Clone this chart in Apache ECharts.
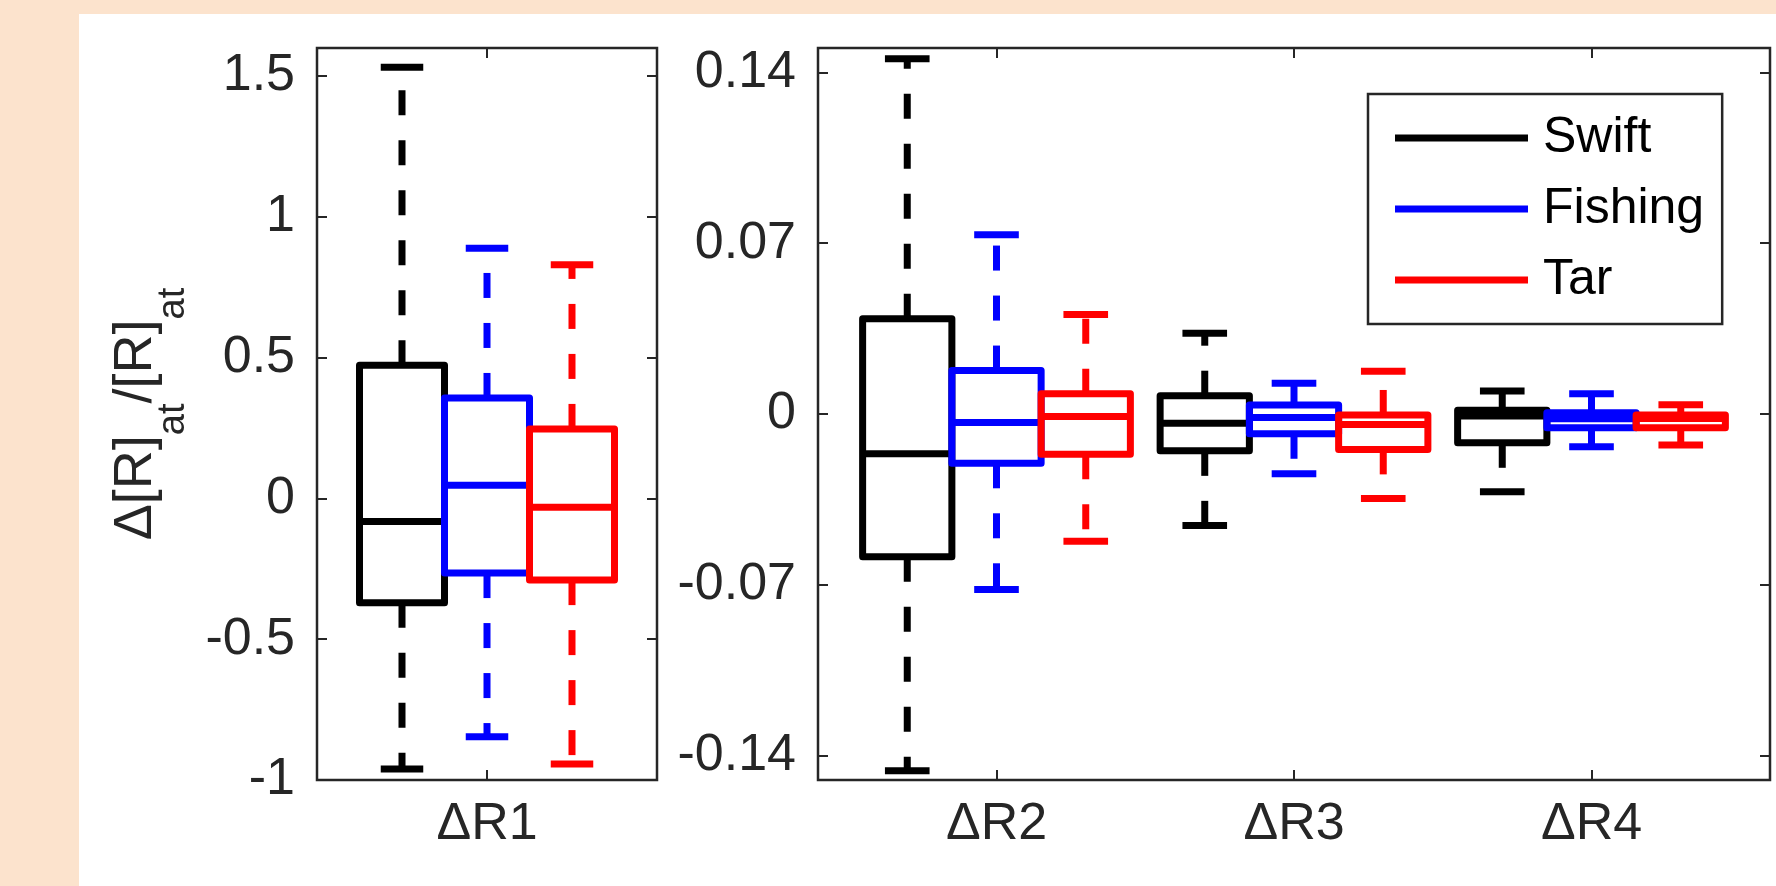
<!DOCTYPE html>
<html>
<head>
<meta charset="utf-8">
<script src="https://cdn.jsdelivr.net/npm/echarts@6/dist/echarts.min.js"></script>
<style>
  html, body { margin: 0; padding: 0; background: #fce3cd; }
  #chart { width: 1776px; height: 886px; }
</style>
</head>
<body>
<div id="chart"></div>
<script>
// categories and groups
const categories = ['ΔR1', 'ΔR2', 'ΔR3', 'ΔR4'];
const groups = ['Swift', 'Fishing', 'Tar'];
const groupColors = ['#000000', '#0000ff', '#ff0000'];

// per category: [lower whisker, q1, median, q3, upper whisker]
const swiftStats = [
  [-0.961, -0.370, -0.082, 0.473, 1.532],
  [-0.1462, -0.0585, -0.0163, 0.0390, 0.1456],
  [-0.0457, -0.0151, -0.0038, 0.0075, 0.0331],
  [-0.0319, -0.0118, -0.0008, 0.0015, 0.0094]
];
const fishingStats = [
  [-0.846, -0.265, 0.047, 0.357, 0.889],
  [-0.0719, -0.0202, -0.0035, 0.0178, 0.0735],
  [-0.0245, -0.0081, -0.0014, 0.0037, 0.0126],
  [-0.0134, -0.0056, -0.0019, 0.0005, 0.0083]
];
const tarStats = [
  [-0.943, -0.290, -0.031, 0.247, 0.830],
  [-0.0522, -0.0165, -0.0010, 0.0083, 0.0408],
  [-0.0346, -0.0145, -0.0043, -0.0004, 0.0175],
  [-0.0127, -0.0056, -0.0018, -0.0004, 0.0038]
];

// tick labels
const leftTicks = [-1, -0.5, 0, 0.5, 1, 1.5];
const rightTicks = [-0.14, -0.07, 0, 0.07, 0.14];

const statsByGroup = [swiftStats, fishingStats, tarStats];
const BOX_OFFSETS = [-0.3, 0, 0.3];
const BOX_W = 0.3;
const CAP_W = 0.15;
const LINE_W = 7;
const FONT = 'Liberation Sans';
const AXIS_COLOR = '#262626';

function renderBox(params, api) {
  const x = api.value(0);
  const lo = api.coord([x, api.value(1)]);
  const q1 = api.coord([x, api.value(2)]);
  const med = api.coord([x, api.value(3)]);
  const q3 = api.coord([x, api.value(4)]);
  const hi = api.coord([x, api.value(5)]);
  const halfBox = api.size([BOX_W, 0])[0] / 2;
  const halfCap = api.size([CAP_W, 0])[0] / 2;
  const color = api.visual('color');
  const solid = { stroke: color, lineWidth: LINE_W, fill: null, lineJoin: 'round' };
  const dashed = { stroke: color, lineWidth: LINE_W, fill: null, lineDash: [25, 25] };
  const cx = med[0];
  return {
    type: 'group',
    children: [
      // whiskers start at the box so the dash pattern begins there
      { type: 'line', shape: { x1: cx, y1: q3[1], x2: cx, y2: hi[1] }, style: dashed },
      { type: 'line', shape: { x1: cx, y1: q1[1], x2: cx, y2: lo[1] }, style: dashed },
      { type: 'line', shape: { x1: cx - halfCap, y1: hi[1], x2: cx + halfCap, y2: hi[1] }, style: solid },
      { type: 'line', shape: { x1: cx - halfCap, y1: lo[1], x2: cx + halfCap, y2: lo[1] }, style: solid },
      { type: 'rect', shape: { x: cx - halfBox, y: q3[1], width: halfBox * 2, height: q1[1] - q3[1] }, style: solid },
      { type: 'line', shape: { x1: cx - halfBox, y1: med[1], x2: cx + halfBox, y2: med[1] }, style: solid }
    ]
  };
}

// left panel holds ΔR1, right panel ΔR2..ΔR4
function buildSeries() {
  const out = [];
  groups.forEach((name, g) => {
    const stats = statsByGroup[g];
    const panels = [[0], [1, 2, 3]];
    panels.forEach((cats, p) => {
      out.push({
        name,
        type: 'custom',
        xAxisIndex: p * 2,
        yAxisIndex: p * 2,
        itemStyle: { color: groupColors[g] },
        renderItem: renderBox,
        encode: { x: 0, y: [1, 2, 3, 4, 5] },
        data: cats.map((c, i) => [i + 1 + BOX_OFFSETS[g]].concat(stats[c]))
      });
    });
  });
  return out;
}

const labelStyle = { fontFamily: FONT, fontSize: 52, color: AXIS_COLOR };
const tickStyle = { show: true, inside: true, length: 10, lineStyle: { color: AXIS_COLOR, width: 2 } };
const noLine = { show: false, onZero: false };

function xAxes(gridIndex, cats) {
  const pos = cats.map((c, i) => i + 1);
  const range = { min: 0.4, max: cats.length + 0.6 };
  return [
    {
      type: 'value', gridIndex, position: 'bottom', ...range,
      axisLine: noLine, splitLine: { show: false },
      axisTick: { ...tickStyle, customValues: pos },
      axisLabel: { ...labelStyle, margin: 19, customValues: pos, formatter: v => cats[Math.round(v) - 1] }
    },
    {
      type: 'value', gridIndex, position: 'top', ...range,
      axisLine: noLine, splitLine: { show: false },
      axisTick: { ...tickStyle, customValues: pos },
      axisLabel: { show: false }
    }
  ];
}

function yAxes(gridIndex, min, max, ticks, extra) {
  return [
    Object.assign({
      type: 'value', gridIndex, position: 'left', min, max,
      axisLine: noLine, splitLine: { show: false },
      axisTick: { ...tickStyle, customValues: ticks },
      axisLabel: { ...labelStyle, margin: 22, customValues: ticks, formatter: v => String(v) }
    }, extra || {}),
    {
      type: 'value', gridIndex, position: 'right', min, max,
      axisLine: noLine, splitLine: { show: false },
      axisTick: { ...tickStyle, customValues: ticks },
      axisLabel: { show: false }
    }
  ];
}

const chart = echarts.init(document.getElementById('chart'));
chart.setOption({
  animation: false,
  backgroundColor: 'transparent',
  graphic: [{
    type: 'rect', left: 79, top: 14, z: -10, silent: true,
    shape: { width: 1697, height: 872 },
    style: { fill: '#ffffff' }
  }],
  grid: [
    { left: 317, top: 48, width: 340, height: 732, show: true, borderColor: AXIS_COLOR, borderWidth: 2.5, backgroundColor: 'transparent' },
    { left: 818, top: 48, width: 952, height: 732, show: true, borderColor: AXIS_COLOR, borderWidth: 2.5, backgroundColor: 'transparent' }
  ],
  xAxis: [...xAxes(0, categories.slice(0, 1)), ...xAxes(1, categories.slice(1))],
  yAxis: [
    ...yAxes(0, -1, 1.6, leftTicks, {
      name: '{m|Δ[R]}{s|at}{m|/[R]}{s|at}',
      nameLocation: 'middle',
      nameRotate: 90,
      nameGap: 78,
      nameTextStyle: {
        rich: {
          m: { fontFamily: FONT, fontSize: 54, color: AXIS_COLOR, lineHeight: 54, verticalAlign: 'top' },
          s: { fontFamily: FONT, fontSize: 38, color: AXIS_COLOR, lineHeight: 130 }
        }
      }
    }),
    ...yAxes(1, -0.15, 0.15, rightTicks)
  ],
  legend: {
    data: groups,
    selectedMode: false,
    orient: 'vertical',
    left: 1368,
    top: 94,
    padding: [19, 18, 19, 27],
    itemGap: 21,
    itemWidth: 133,
    itemHeight: 7,
    icon: 'rect',
    borderColor: AXIS_COLOR,
    borderWidth: 2.5,
    backgroundColor: '#ffffff',
    textStyle: { fontFamily: FONT, fontSize: 50, color: '#000000', padding: [0, 0, 0, 10] }
  },
  series: buildSeries()
});
</script>
</body>
</html>
